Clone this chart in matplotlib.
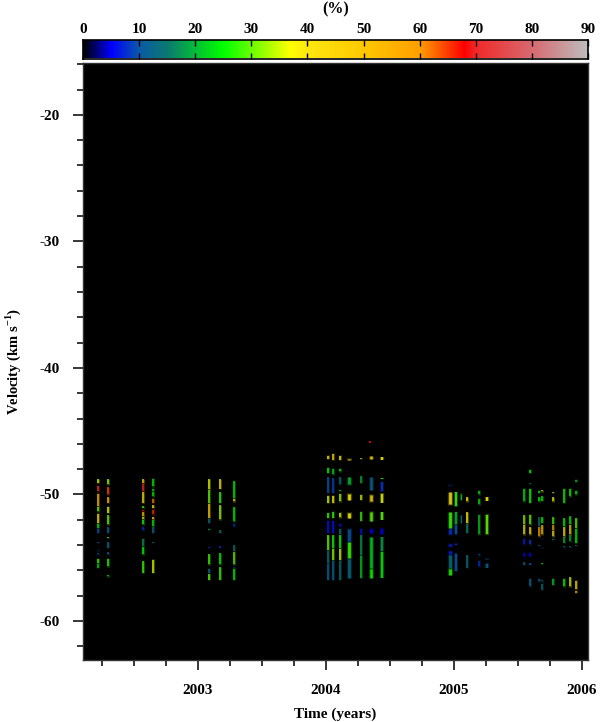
import numpy as np
import matplotlib
matplotlib.use("Agg")
import matplotlib.pyplot as plt
from matplotlib.colors import LinearSegmentedColormap, Normalize
from matplotlib.ticker import MultipleLocator

plt.rcParams['font.family'] = ['Liberation Serif', 'DejaVu Serif']
plt.rcParams['font.weight'] = 'bold'
plt.rcParams['axes.unicode_minus'] = False
plt.rcParams['mathtext.fontset'] = 'custom'
plt.rcParams['mathtext.rm'] = 'Liberation Serif:bold'
plt.rcParams['mathtext.bf'] = 'Liberation Serif:bold'

# (top velocity, bottom velocity, percent)
c2002a = [(-48.77,-49.11,35),(-49.25,-49.77,72),(-49.9,-50.96,52),(-50.96,-51.35,30),(-51.49,-52.28,42),
          (-52.28,-52.67,24),(-52.67,-53.07,10),(-53.73,-53.86,10),(-54.33,-54.45,10),(-54.6,-54.75,10),
          (-55.04,-55.44,28),(-55.44,-55.83,22)]
c2002b = [(-48.77,-49.25,33),(-49.38,-50.04,64),(-50.17,-50.7,52),(-50.91,-51.49,36),(-51.62,-52.41,30),
          (-52.54,-53.07,12),(-53.33,-53.46,30),(-53.73,-54.25,13),(-54.52,-54.78,12),(-55.04,-55.7,27),
          (-56.36,-56.49,25)]
c2002c = [(-48.77,-49.11,46),(-49.11,-49.77,70),(-49.77,-50.7,42),(-50.91,-51.09,28),(-51.17,-51.35,68),
          (-51.35,-51.75,52),(-51.75,-52.01,34),(-52.01,-52.41,26),(-52.54,-52.86,8),(-53.46,-54.12,17),
          (-54.12,-54.78,25),(-55.23,-56.23,28)]
c2002d = [(-48.72,-49.38,24),(-49.51,-49.77,22),(-49.77,-50.17,24),(-50.3,-50.7,62),(-50.83,-51.09,40),
          (-51.17,-51.62,66),(-51.75,-52.01,42),(-52.01,-52.54,24),(-52.54,-53.07,13),(-53.73,-53.86,13),
          (-55.12,-56.23,35)]
c2003a = [(-48.77,-49.64,36),(-49.64,-50.7,30),(-50.7,-51.88,47),(-51.88,-52.28,14),(-52.67,-52.8,18),
          (-54.12,-54.25,7),(-54.7,-55.57,28),(-55.83,-56.28,13),(-56.28,-56.76,30)]
c2003b = [(-48.77,-49.59,40),(-49.77,-50.7,28),(-50.83,-52.01,33),(-52.8,-53.07,15),(-54.07,-54.25,8),
          (-54.6,-55.57,25),(-55.7,-56.76,28)]
c2003c = [(-48.9,-50.3,25),(-50.3,-50.56,38),(-50.96,-52.14,25),(-52.28,-52.54,8),(-53.99,-54.52,15),
          (-54.52,-55.57,30),(-55.7,-55.83,8),(-55.83,-56.76,25)]
c2004a = [(-46.88,-47.2,38),(-47.86,-48.33,25),(-48.59,-49.91,10),(-50.04,-50.7,35),(-51.41,-51.89,28),
          (-52.02,-53.07,6),(-53.2,-54.39,30),(-54.39,-55.45,14),(-55.45,-56.76,12)]
c2004b = [(-46.75,-47.28,45),(-47.94,-48.46,22),(-48.67,-49.91,9),(-50.04,-50.7,38),(-51.31,-51.89,28),
          (-52.02,-53.07,6),(-53.2,-54.26,26),(-54.26,-55.18,32),(-55.18,-56.76,12)]
c2004c = [(-46.88,-47.28,38),(-47.94,-48.2,25),(-48.59,-49.25,13),(-49.65,-49.75,25),(-49.91,-50.57,33),
          (-51.41,-51.83,36),(-52.28,-52.55,6),(-52.68,-53.2,13),(-53.2,-54.26,26),(-54.26,-55.18,35),
          (-55.18,-56.76,14)]
c2004d = [(-47.14,-47.28,40),(-48.03,-48.1,25),(-48.59,-49.25,20),(-49.91,-50.44,38),(-51.41,-51.89,38),
          (-52.68,-53.73,10),(-53.73,-55.05,28),(-55.05,-56.63,13)]
c2004e = [(-47.09,-47.2,40),(-48.5,-49.12,20),(-50.0,-50.44,35),(-51.31,-52.1,28),(-52.68,-53.2,6),
          (-53.2,-54.79,18),(-54.79,-56.63,22)]
c2004f = [(-46.93,-47.2,42),(-48.59,-49.65,12),(-50.0,-50.57,42),(-51.31,-52.1,30),(-52.68,-53.07,5),
          (-53.34,-55.84,22),(-55.84,-56.63,26)]
c2004g = [(-47.0,-47.28,38),(-48.68,-48.78,25),(-48.99,-49.78,8),(-49.91,-50.7,36),(-51.36,-52.02,30),
          (-52.68,-53.2,5),(-53.34,-54.52,18),(-54.52,-56.63,24)]
c2005a = [(-49.2,-49.3,8),(-49.78,-50.83,40),(-51.36,-52.68,28),(-52.68,-53.2,8),(-53.86,-54.13,7),
          (-54.39,-54.78,7),(-54.78,-55.84,14),(-55.84,-56.37,27)]
c2005b = [(-49.78,-50.96,28),(-51.36,-52.41,20),(-52.41,-53.2,10),(-53.86,-53.98,8),(-54.65,-56.1,10)]
c2005c = [(-49.91,-50.44,22),(-51.62,-52.28,14)]
c2005d = [(-50.17,-50.57,38),(-51.36,-52.28,38),(-52.28,-53.07,16),(-54.78,-55.84,14)]
c2005e = [(-49.65,-50.04,24),(-50.3,-50.83,24),(-51.57,-53.2,22),(-54.7,-54.85,10),(-55.18,-55.71,8)]
c2005f = [(-50.17,-50.52,38),(-51.57,-53.2,30),(-55.05,-55.15,12),(-55.44,-55.84,12)]
c2005g = [(-49.51,-50.57,24),(-51.62,-52.41,32),(-52.41,-53.2,40),(-53.47,-53.99,7),(-54.57,-54.92,5),
          (-55.31,-55.58,12)]
c2005h = [(-47.99,-48.33,25),(-49.1,-49.2,14),(-49.51,-50.7,26),(-51.57,-52.41,30),(-52.54,-53.2,42),
          (-53.52,-53.99,8),(-54.57,-54.92,5),(-55.4,-55.58,10),(-56.63,-57.29,12)]
c2005i = [(-49.65,-49.91,25),(-50.17,-50.57,25),(-51.75,-52.54,14),(-52.54,-53.34,58),(-53.99,-54.1,12),
          (-56.63,-56.9,12)]
c2005j = [(-49.65,-49.78,38),(-50.09,-50.52,25),(-51.75,-52.28,25),(-52.41,-53.2,50),(-53.47,-53.55,12),
          (-54.13,-54.2,12),(-55.4,-55.5,25),(-56.76,-56.89,12),(-57.02,-57.55,14)]
c2005k = [(-49.78,-49.91,35),(-50.17,-50.57,38),(-51.75,-52.36,28),(-52.41,-52.81,58),(-52.81,-53.34,40),
          (-53.47,-53.6,15),(-56.63,-57.16,22)]
c2005l = [(-49.51,-50.7,26),(-51.83,-52.54,25),(-52.54,-53.34,40),(-53.34,-53.86,20),(-54.08,-54.2,14),
          (-56.63,-57.29,26)]
c2005m = [(-49.51,-50.17,26),(-51.67,-52.41,25),(-52.41,-53.2,45),(-53.2,-53.73,20),(-54.08,-54.2,12),
          (-56.5,-57.29,36)]
c2005n = [(-48.78,-49.04,22),(-49.65,-50.04,25),(-51.83,-52.68,30),(-52.68,-53.86,25),(-53.99,-54.1,15),
          (-56.76,-57.47,42),(-57.55,-57.81,54)]

obs_times = [2002.217,2002.297,2002.568,2002.648,2003.086,2003.172,2003.281,
             2004.016,2004.055,2004.109,2004.18,2004.273,2004.352,2004.434,
             2004.969,2005.016,2005.055,2005.105,2005.195,2005.258,
             2005.549,2005.596,2005.664,2005.687,2005.77,2005.859,2005.904,2005.955]
obs_columns = [c2002a,c2002b,c2002c,c2002d,c2003a,c2003b,c2003c,
               c2004a,c2004b,c2004c,c2004d,c2004e,c2004f,c2004g,
               c2005a,c2005b,c2005c,c2005d,c2005e,c2005f,
               c2005g,c2005h,c2005i,c2005j,c2005k,c2005l,c2005m,c2005n]
obs_widths = [1.2,1.2,1.2,1.2,1.2,1.2,1.1,
              1.2,1.2,1.2,2.0,1.1,1.8,1.6,
              2.0,1.5,0.9,1.2,1.1,1.6,
              1.1,1.2,1.1,1.1,1.1,1.1,1.1,1.1]
red_spot_time = 2004.344
red_spot = (-45.75,-45.9,68)

cbar_stops = [0,5,10,15,25,37,40,50,60,68,70,80,90]
cbar_colors = ['#000000','#0000ff','#0a5aa8','#0a7a70','#00ff00','#ffff00','#ffe810','#ffc800','#ffa000',
               '#ff0000','#f02828','#d86a70','#bdbdbd']
percent_ticks = [0,10,20,30,40,50,60,70,80,90]
year_ticks = [2003,2004,2005,2006]
velocity_ticks = [-20,-30,-40,-50,-60]

cmap = LinearSegmentedColormap.from_list('maser', [(s/90.0,c) for s,c in zip(cbar_stops,cbar_colors)], N=512)
norm = Normalize(0,90)

W = 600.0
H = 722.0
fig = plt.figure(figsize=(6,7.22), dpi=100)
ax = fig.add_axes([83/W, 1-660/H, 505/W, 597/H])
cax = fig.add_axes([83/W, 1-58.5/H, 505/W, 19/H])

ax.set_facecolor('black')
ax.set_xlim(2002.102, 2006.047)
ax.set_ylim(-63.08, -15.9)
for t, col, lw in zip(obs_times, obs_columns, obs_widths):
    for top, bottom, pct in col:
        colr = cmap(norm(pct))
        # soft edge like the blurred original
        ax.vlines(t, bottom, top, colors=[colr], linewidth=lw*1.9, alpha=0.28)
        inset = min(0.04, (top-bottom)*0.2)
        ax.vlines(t, bottom+inset, top-inset, colors=[colr], linewidth=lw, alpha=0.78)
ax.vlines(red_spot_time, red_spot[1], red_spot[0], colors=[cmap(norm(red_spot[2]))], linewidth=1.2)

ax.set_xticks(year_ticks)
ax.set_xticklabels([str(y) for y in year_ticks])
ax.xaxis.set_minor_locator(MultipleLocator(0.25))
ax.set_yticks(velocity_ticks)
ax.set_yticklabels([str(v) for v in velocity_ticks])
ax.yaxis.set_minor_locator(MultipleLocator(2))
ax.tick_params(axis='both', which='major', length=7.5, width=1.1, labelsize=11)
ax.tick_params(axis='both', which='minor', length=4, width=1.1)
ax.tick_params(axis='x', which='major', pad=10)
ax.tick_params(axis='y', which='major', pad=9)
for s in ax.spines.values():
    s.set_linewidth(1.0)
    s.set_color('#333333')
ax.set_xlabel('Time (years)', fontsize=11, fontweight='bold', labelpad=7)
ax.set_ylabel(r'Velocity (km s$^{\mathbf{-1}}$)', fontsize=10.5, fontweight='bold', labelpad=12)

grad = np.linspace(0,90,512).reshape(1,-1)
cax.imshow(grad, cmap=cmap, norm=norm, aspect='auto', extent=[0,90,0,1])
cax.set_yticks([])
cax.set_xticks(percent_ticks)
cax.tick_params(axis='x', direction='in', length=4.5, width=1.0, top=True, bottom=True,
                labeltop=True, labelbottom=False, labelsize=11, pad=2.5)
for s in cax.spines.values():
    s.set_linewidth(1.2)
fig.text(336/W, 1-9/H, '(%)', ha='center', va='center', fontsize=11.5, fontweight='bold')

fig.savefig('out.png', dpi=100)
